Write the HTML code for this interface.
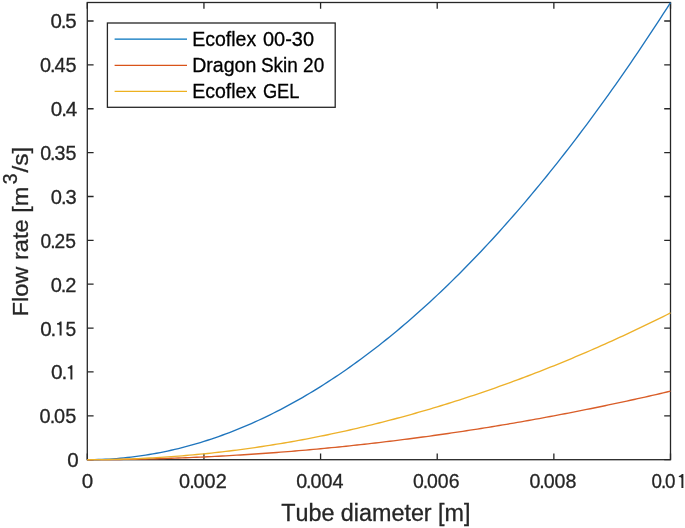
<!DOCTYPE html><html><head><meta charset="utf-8"><style>html,body{margin:0;padding:0;background:#fff;width:685px;height:528px;overflow:hidden}svg{display:block;will-change:transform}text{font-family:"Liberation Sans",sans-serif;fill:#262626;stroke:#262626;stroke-width:0.3px;font-kerning:none;white-space:pre}</style></head><body>
<svg width="685" height="528" viewBox="0 0 685 528">
<rect x="0" y="0" width="685" height="528" fill="#fff"/>
<rect x="87.3" y="2.5" width="583.20" height="457.20" fill="none" stroke="#262626" stroke-width="1.3"/>
<path d="M87.3,459.70h6.3M670.5,459.70h-6.3M87.3,415.83h6.3M670.5,415.83h-6.3M87.3,371.96h6.3M670.5,371.96h-6.3M87.3,328.09h6.3M670.5,328.09h-6.3M87.3,284.22h6.3M670.5,284.22h-6.3M87.3,240.35h6.3M670.5,240.35h-6.3M87.3,196.48h6.3M670.5,196.48h-6.3M87.3,152.61h6.3M670.5,152.61h-6.3M87.3,108.74h6.3M670.5,108.74h-6.3M87.3,64.87h6.3M670.5,64.87h-6.3M87.3,21.00h6.3M670.5,21.00h-6.3M87.30,459.7v-6.3M87.30,2.5v6.3M203.94,459.7v-6.3M203.94,2.5v6.3M320.58,459.7v-6.3M320.58,2.5v6.3M437.22,459.7v-6.3M437.22,2.5v6.3M553.86,459.7v-6.3M553.86,2.5v6.3M670.50,459.7v-6.3M670.50,2.5v6.3" stroke="#262626" stroke-width="1.3" fill="none"/>
<polyline points="87.30,459.70 90.94,459.68 94.59,459.63 98.23,459.54 101.88,459.41 105.53,459.25 109.17,459.06 112.81,458.83 116.46,458.56 120.11,458.25 123.75,457.91 127.40,457.54 131.04,457.13 134.69,456.68 138.33,456.20 141.97,455.68 145.62,455.13 149.27,454.54 152.91,453.91 156.56,453.25 160.20,452.56 163.85,451.83 167.49,451.06 171.14,450.25 174.78,449.41 178.43,448.54 182.07,447.63 185.72,446.68 189.36,445.70 193.01,444.68 196.65,443.63 200.30,442.54 203.94,441.41 207.59,440.25 211.23,439.06 214.88,437.83 218.52,436.56 222.17,435.25 225.81,433.92 229.46,432.54 233.10,431.13 236.75,429.68 240.39,428.20 244.04,426.68 247.68,425.13 251.32,423.54 254.97,421.92 258.62,420.26 262.26,418.56 265.91,416.83 269.55,415.06 273.20,413.26 276.84,411.42 280.49,409.54 284.13,407.63 287.78,405.68 291.42,403.70 295.06,401.68 298.71,399.63 302.36,397.54 306.00,395.42 309.65,393.26 313.29,391.06 316.94,388.83 320.58,386.56 324.23,384.26 327.87,381.92 331.52,379.54 335.16,377.13 338.81,374.69 342.45,372.20 346.10,369.69 349.74,367.13 353.39,364.54 357.03,361.92 360.68,359.26 364.32,356.56 367.97,353.83 371.61,351.06 375.26,348.26 378.90,345.42 382.55,342.54 386.19,339.63 389.84,336.69 393.48,333.70 397.13,330.69 400.77,327.63 404.42,324.54 408.06,321.42 411.71,318.26 415.35,315.06 419.00,311.83 422.64,308.56 426.29,305.26 429.93,301.92 433.58,298.55 437.22,295.13 440.87,291.69 444.51,288.21 448.16,284.69 451.80,281.14 455.45,277.55 459.09,273.92 462.74,270.26 466.38,266.56 470.03,262.83 473.67,259.06 477.32,255.26 480.96,251.42 484.61,247.55 488.25,243.64 491.90,239.69 495.54,235.71 499.19,231.69 502.83,227.64 506.48,223.55 510.12,219.42 513.77,215.26 517.41,211.07 521.06,206.83 524.70,202.57 528.35,198.26 531.99,193.92 535.63,189.55 539.28,185.14 542.93,180.69 546.57,176.21 550.22,171.69 553.86,167.14 557.50,162.55 561.15,157.93 564.79,153.27 568.44,148.57 572.09,143.84 575.73,139.07 579.38,134.27 583.02,129.43 586.67,124.55 590.31,119.64 593.96,114.70 597.60,109.71 601.25,104.70 604.89,99.64 608.53,94.55 612.18,89.43 615.82,84.27 619.47,79.07 623.12,73.84 626.76,68.57 630.40,63.27 634.05,57.93 637.70,52.55 641.34,47.14 644.99,41.70 648.63,36.22 652.27,30.70 655.92,25.15 659.56,19.56 663.21,13.93 666.86,8.27 670.50,2.57" fill="none" stroke="#1F75BD" stroke-width="1.35" stroke-linejoin="round"/>
<polyline points="87.30,459.70 90.94,459.70 94.59,459.69 98.23,459.68 101.88,459.66 105.53,459.63 109.17,459.60 112.81,459.57 116.46,459.53 120.11,459.48 123.75,459.43 127.40,459.38 131.04,459.31 134.69,459.25 138.33,459.18 141.97,459.10 145.62,459.01 149.27,458.93 152.91,458.83 156.56,458.73 160.20,458.63 163.85,458.52 167.49,458.40 171.14,458.28 174.78,458.16 178.43,458.03 182.07,457.89 185.72,457.75 189.36,457.60 193.01,457.45 196.65,457.29 200.30,457.13 203.94,456.96 207.59,456.79 211.23,456.61 214.88,456.42 218.52,456.23 222.17,456.04 225.81,455.83 229.46,455.63 233.10,455.42 236.75,455.20 240.39,454.98 244.04,454.75 247.68,454.52 251.32,454.28 254.97,454.04 258.62,453.79 262.26,453.53 265.91,453.27 269.55,453.01 273.20,452.74 276.84,452.46 280.49,452.18 284.13,451.89 287.78,451.60 291.42,451.31 295.06,451.00 298.71,450.70 302.36,450.38 306.00,450.06 309.65,449.74 313.29,449.41 316.94,449.08 320.58,448.74 324.23,448.39 327.87,448.04 331.52,447.68 335.16,447.32 338.81,446.96 342.45,446.58 346.10,446.21 349.74,445.82 353.39,445.44 357.03,445.04 360.68,444.64 364.32,444.24 367.97,443.83 371.61,443.41 375.26,442.99 378.90,442.57 382.55,442.14 386.19,441.70 389.84,441.26 393.48,440.81 397.13,440.36 400.77,439.90 404.42,439.44 408.06,438.97 411.71,438.50 415.35,438.02 419.00,437.53 422.64,437.04 426.29,436.55 429.93,436.05 433.58,435.54 437.22,435.03 440.87,434.51 444.51,433.99 448.16,433.47 451.80,432.93 455.45,432.39 459.09,431.85 462.74,431.30 466.38,430.75 470.03,430.19 473.67,429.62 477.32,429.05 480.96,428.48 484.61,427.90 488.25,427.31 491.90,426.72 495.54,426.12 499.19,425.52 502.83,424.91 506.48,424.30 510.12,423.68 513.77,423.06 517.41,422.43 521.06,421.79 524.70,421.15 528.35,420.51 531.99,419.86 535.63,419.20 539.28,418.54 542.93,417.88 546.57,417.20 550.22,416.53 553.86,415.84 557.50,415.16 561.15,414.46 564.79,413.76 568.44,413.06 572.09,412.35 575.73,411.64 579.38,410.92 583.02,410.19 586.67,409.46 590.31,408.72 593.96,407.98 597.60,407.24 601.25,406.48 604.89,405.73 608.53,404.96 612.18,404.19 615.82,403.42 619.47,402.64 623.12,401.86 626.76,401.07 630.40,400.27 634.05,399.47 637.70,398.67 641.34,397.86 644.99,397.04 648.63,396.22 652.27,395.39 655.92,394.56 659.56,393.72 663.21,392.88 666.86,392.03 670.50,391.18" fill="none" stroke="#D95D28" stroke-width="1.35" stroke-linejoin="round"/>
<polyline points="87.30,459.70 90.94,459.69 94.59,459.68 98.23,459.65 101.88,459.61 105.53,459.56 109.17,459.49 112.81,459.42 116.46,459.33 120.11,459.24 123.75,459.13 127.40,459.01 131.04,458.87 134.69,458.73 138.33,458.58 141.97,458.41 145.62,458.23 149.27,458.04 152.91,457.84 156.56,457.63 160.20,457.41 163.85,457.17 167.49,456.92 171.14,456.67 174.78,456.40 178.43,456.12 182.07,455.82 185.72,455.52 189.36,455.20 193.01,454.88 196.65,454.54 200.30,454.19 203.94,453.83 207.59,453.46 211.23,453.07 214.88,452.68 218.52,452.27 222.17,451.85 225.81,451.42 229.46,450.98 233.10,450.53 236.75,450.06 240.39,449.59 244.04,449.10 247.68,448.60 251.32,448.09 254.97,447.57 258.62,447.03 262.26,446.49 265.91,445.93 269.55,445.37 273.20,444.79 276.84,444.20 280.49,443.59 284.13,442.98 287.78,442.35 291.42,441.72 295.06,441.07 298.71,440.41 302.36,439.74 306.00,439.06 309.65,438.36 313.29,437.66 316.94,436.94 320.58,436.21 324.23,435.47 327.87,434.72 331.52,433.96 335.16,433.19 338.81,432.40 342.45,431.60 346.10,430.80 349.74,429.98 353.39,429.14 357.03,428.30 360.68,427.45 364.32,426.58 367.97,425.70 371.61,424.81 375.26,423.91 378.90,423.00 382.55,422.08 386.19,421.14 389.84,420.20 393.48,419.24 397.13,418.27 400.77,417.29 404.42,416.30 408.06,415.30 411.71,414.28 415.35,413.26 419.00,412.22 422.64,411.17 426.29,410.11 429.93,409.03 433.58,407.95 437.22,406.86 440.87,405.75 444.51,404.63 448.16,403.50 451.80,402.36 455.45,401.21 459.09,400.04 462.74,398.87 466.38,397.68 470.03,396.48 473.67,395.27 477.32,394.05 480.96,392.82 484.61,391.57 488.25,390.32 491.90,389.05 495.54,387.77 499.19,386.48 502.83,385.18 506.48,383.87 510.12,382.54 513.77,381.21 517.41,379.86 521.06,378.50 524.70,377.13 528.35,375.75 531.99,374.36 535.63,372.95 539.28,371.53 542.93,370.11 546.57,368.67 550.22,367.22 553.86,365.76 557.50,364.28 561.15,362.80 564.79,361.30 568.44,359.79 572.09,358.27 575.73,356.74 579.38,355.20 583.02,353.64 586.67,352.08 590.31,350.50 593.96,348.91 597.60,347.31 601.25,345.70 604.89,344.08 608.53,342.45 612.18,340.80 615.82,339.14 619.47,337.48 623.12,335.80 626.76,334.10 630.40,332.40 634.05,330.69 637.70,328.96 641.34,327.22 644.99,325.47 648.63,323.71 652.27,321.94 655.92,320.16 659.56,318.36 663.21,316.56 666.86,314.74 670.50,312.91" fill="none" stroke="#EDB12A" stroke-width="1.35" stroke-linejoin="round"/>
<text transform="translate(67.16,467.15) scale(0.9802,1)" font-size="21.0">0</text>
<text transform="translate(39.62,423.28) scale(0.9493,1)" font-size="21.0">0<tspan dx="-1.10">.</tspan><tspan dx="-1.20">0</tspan>5</text>
<text transform="translate(50.88,379.41) scale(0.9945,1)" font-size="21.0">0<tspan dx="-1.10">.</tspan></text>
<path d="M72.38,365.31 L72.38,379.41 L70.42,379.41 L70.42,369.21 L69.80,368.61 L67.80,368.41 L67.80,367.21 L69.20,366.81 L70.30,366.01 L70.90,365.31Z" fill="#262626"/>
<text transform="translate(40.20,335.54) scale(0.9798,1)" font-size="21.0">0<tspan dx="-1.10">.</tspan></text>
<path d="M61.58,321.44 L61.58,335.54 L59.62,335.54 L59.62,325.34 L59.00,324.74 L57.00,324.54 L57.00,323.34 L58.40,322.94 L59.50,322.14 L60.10,321.44Z" fill="#262626"/>
<text transform="translate(65.43,335.54) scale(0.9140,1)" font-size="21.0">5</text>
<text transform="translate(50.72,291.67) scale(0.9554,1)" font-size="21.0">0<tspan dx="-1.10">.</tspan><tspan dx="-1.20">2</tspan></text>
<text transform="translate(40.55,247.80) scale(0.9167,1)" font-size="21.0">0<tspan dx="-1.10">.</tspan><tspan dx="-1.20">2</tspan>5</text>
<text transform="translate(50.81,203.93) scale(0.9583,1)" font-size="21.0">0<tspan dx="-1.10">.</tspan><tspan dx="-1.20">3</tspan></text>
<text transform="translate(40.13,160.06) scale(0.9384,1)" font-size="21.0">0<tspan dx="-1.10">.</tspan><tspan dx="-1.20">3</tspan>5</text>
<text transform="translate(50.79,116.19) scale(0.9820,1)" font-size="21.0">0<tspan dx="-1.10">.</tspan><tspan dx="-1.20">4</tspan></text>
<text transform="translate(39.98,72.32) scale(0.9477,1)" font-size="21.0">0<tspan dx="-1.10">.</tspan><tspan dx="-1.20">4</tspan>5</text>
<text transform="translate(50.50,28.45) scale(0.9765,1)" font-size="21.0">0<tspan dx="-1.10">.</tspan><tspan dx="-1.20">5</tspan></text>
<text transform="translate(81.75,488.10) scale(0.9812,1)" font-size="21.0">0</text>
<text transform="translate(179.12,488.10) scale(0.9468,1)" font-size="21.0">0<tspan dx="-1.10">.</tspan><tspan dx="-1.20">0</tspan>02</text>
<text transform="translate(296.13,488.10) scale(0.9423,1)" font-size="21.0">0<tspan dx="-1.10">.</tspan><tspan dx="-1.20">0</tspan>04</text>
<text transform="translate(412.94,488.10) scale(0.9256,1)" font-size="21.0">0<tspan dx="-1.10">.</tspan><tspan dx="-1.20">0</tspan>06</text>
<text transform="translate(529.43,488.10) scale(0.9357,1)" font-size="21.0">0<tspan dx="-1.10">.</tspan><tspan dx="-1.20">0</tspan>08</text>
<text transform="translate(651.41,488.10) scale(0.8969,1)" font-size="21.0">0<tspan dx="-1.10">.</tspan><tspan dx="-1.20">0</tspan></text>
<path d="M683.38,474.00 L683.38,488.10 L681.42,488.10 L681.42,477.90 L680.80,477.30 L678.80,477.10 L678.80,475.90 L680.20,475.50 L681.30,474.70 L681.90,474.00Z" fill="#262626"/>
<text transform="translate(281.18,521.40) scale(0.9848,1)" font-size="23.7">Tube diameter [m]</text>
<g transform="translate(27.6,314.5) rotate(-90)"><text transform="translate(-1.94,0.00) scale(1.0365,1)" font-size="22.8">Flow rate [m</text><text transform="translate(130.36,-10.90) scale(0.9466,1)" font-size="20.5">3</text><text transform="translate(141.90,0.00) scale(1.0827,1)" font-size="22.8">/s]</text></g>
<rect x="107.4" y="23.0" width="227.8" height="84.3" fill="#fff" stroke="#262626" stroke-width="1.3"/>
<line x1="114.6" y1="39.1" x2="187" y2="39.1" stroke="#0072BD" stroke-width="1.3"/>
<text transform="translate(192.20,46.30) scale(0.9616,1)" font-size="20.3" style="fill:#000;stroke:#000">Ecoflex</text>
<text transform="translate(263.02,46.30) scale(0.9834,1)" font-size="20.3" style="fill:#000;stroke:#000">00-30</text>
<line x1="114.6" y1="65.3" x2="187" y2="65.3" stroke="#D95319" stroke-width="1.3"/>
<text transform="translate(192.19,72.40) scale(0.9639,1)" font-size="20.3" style="fill:#000;stroke:#000">Dragon</text>
<text transform="translate(260.94,72.40) scale(0.9349,1)" font-size="20.3" style="fill:#000;stroke:#000">Skin 20</text>
<line x1="114.6" y1="91.4" x2="187" y2="91.4" stroke="#EDB120" stroke-width="1.3"/>
<text transform="translate(192.20,98.40) scale(0.9616,1)" font-size="20.3" style="fill:#000;stroke:#000">Ecoflex</text>
<text transform="translate(262.88,98.40) scale(0.8992,1)" font-size="20.3" style="fill:#000;stroke:#000">GEL</text>
</svg></body></html>
